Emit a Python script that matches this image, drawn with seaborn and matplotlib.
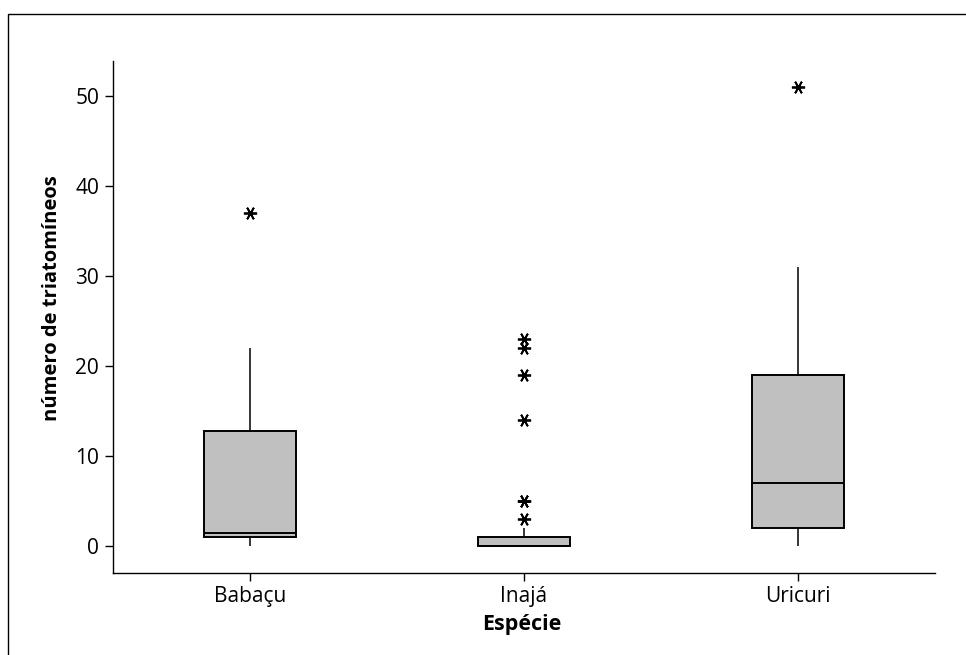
import numpy as np
import pandas as pd
import matplotlib
matplotlib.use("Agg")
import matplotlib.pyplot as plt
from matplotlib.patches import Rectangle
import seaborn as sns

# --- data (counts) ---
categories = ["Babaçu", "Inajá", "Uricuri"]
babacu = [0, 1, 1, 1, 1, 1, 1, 1, 2, 4, 8, 12, 15, 20, 22, 37]
inaja = [0] * 17 + [1] * 8 + [2, 3, 5, 5, 14, 19, 22, 23]
uricuri = [0, 1, 2, 2, 4, 6, 7, 10, 15, 19, 25, 31, 51]
yticks = [0, 10, 20, 30, 40, 50]

df = pd.DataFrame({
    "Espécie": [categories[0]] * len(babacu) + [categories[1]] * len(inaja) + [categories[2]] * len(uricuri),
    "n": babacu + inaja + uricuri,
})

sns.set_style("ticks")
plt.rcParams["font.family"] = ["Open Sans", "DejaVu Sans"]
plt.rcParams["text.color"] = "black"
plt.rcParams["axes.labelcolor"] = "black"

fig = plt.figure(figsize=(9.66, 6.55), dpi=100)
ax = fig.add_axes([113 / 966, 1 - 573.3 / 655, (935 - 113) / 966, (573.3 - 60.7) / 655])

sns.boxplot(
    data=df, x="Espécie", y="n", order=categories, ax=ax,
    color="#c0c0c0", saturation=1, width=0.336, linecolor="black", linewidth=1.4,
    showcaps=False,
    whiskerprops=dict(linewidth=1.1),
    flierprops=dict(marker=(6, 2, 90), markersize=9.5, markeredgecolor="black",
                    markerfacecolor="black", markeredgewidth=1.3),
)

ax.set_xlim(-0.5, 2.5)
ax.set_ylim(-3.03, 53.9)
ax.set_yticks(yticks)
ax.set_yticklabels([str(t) for t in yticks])
for s in ["top", "right"]:
    ax.spines[s].set_visible(False)
for s in ["left", "bottom"]:
    ax.spines[s].set_linewidth(1.0)
    ax.spines[s].set_color("black")
ax.tick_params(axis="both", length=6, width=1.0, color="black", labelsize=15, labelcolor="black")
ax.tick_params(axis="y", pad=4)
ax.tick_params(axis="x", pad=3)

ax.set_xlabel("Espécie", fontsize=15.5, fontweight="bold", color="black")
ax.set_ylabel("número de triatomíneos", fontsize=14.5, fontweight="bold", color="black")
ax.xaxis.set_label_coords(0.497, -0.079)
ax.yaxis.set_label_coords(-0.062, 0.536)

fig.patches.append(Rectangle((8 / 966, -0.1), 1.2, 1.1 - 14 / 655, transform=fig.transFigure,
                             fill=False, edgecolor="black", linewidth=1.0, zorder=0))

fig.savefig("out.png", dpi=100)
